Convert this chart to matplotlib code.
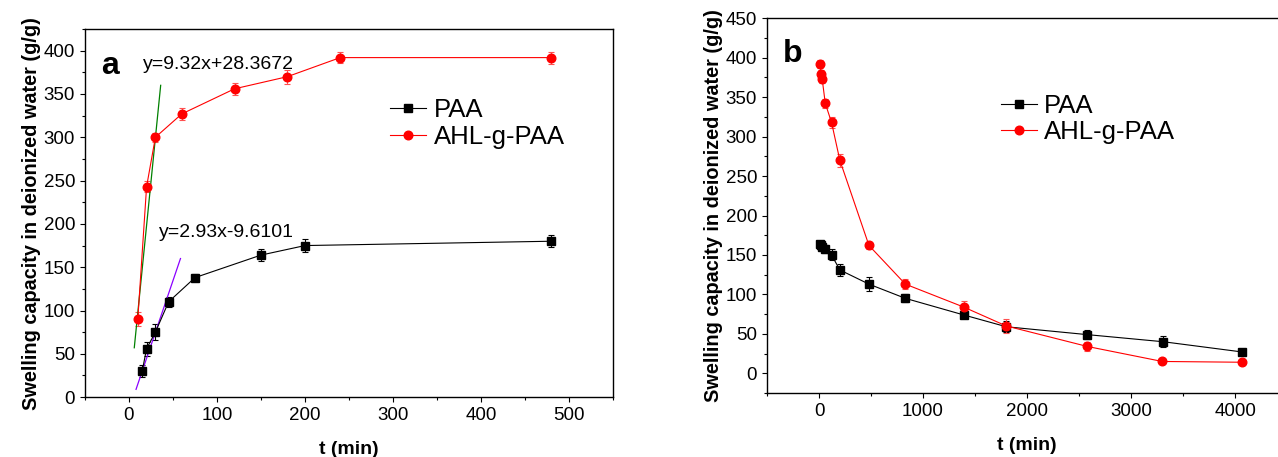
import matplotlib
matplotlib.use("Agg")
import matplotlib.pyplot as plt
from matplotlib.ticker import MultipleLocator

plt.rcParams['font.family'] = ['Liberation Sans', 'DejaVu Sans']

# panel a: swelling kinetics
a_paa_t = [15, 20, 30, 45, 75, 150, 200, 480]
a_paa_q = [30, 56, 75, 110, 138, 164, 175, 180]
a_paa_err = [7, 8, 9, 6, 4, 7, 7, 7]
a_ahl_t = [10, 20, 30, 60, 120, 180, 240, 480]
a_ahl_q = [90, 243, 300, 327, 356, 370, 392, 392]
a_ahl_err = [8, 6, 5, 7, 7, 8, 6, 7]

# fitted lines (endpoints as drawn)
fit_ahl_t = [6, 36]
fit_ahl_q = [57, 360]
fit_paa_t = [8, 58.5]
fit_paa_q = [9, 160]
eq_ahl = "y=9.32x+28.3672"
eq_paa = "y=2.93x-9.6101"

# panel b: deswelling
b_paa_t = [10, 20, 30, 60, 120, 200, 480, 830, 1390, 1800, 2580, 3310, 4070]
b_paa_q = [164, 162, 160, 157, 150, 131, 113, 95, 74, 59, 49, 40, 27]
b_paa_err = [4, 4, 4, 5, 7, 8, 9, 5, 4, 7, 6, 7, 3]
b_ahl_t = [10, 20, 30, 60, 120, 200, 480, 830, 1390, 1800, 2580, 3300, 4070]
b_ahl_q = [392, 380, 373, 342, 318, 270, 162, 113, 84, 60, 34, 15, 14]
b_ahl_err = [5, 5, 5, 6, 7, 8, 5, 6, 8, 9, 6, 3, 3]

labels = ['PAA', 'AHL-g-PAA']
ylab = "Swelling capacity in deionized water (g/g)"

fig = plt.figure(figsize=(12.78, 4.57), dpi=100)
ax1 = fig.add_axes([0.0665, 0.131, 0.4132, 0.8055])
ax2 = fig.add_axes([0.6002, 0.140, 0.4069, 0.820])

ekw = dict(capsize=2.5, elinewidth=0.8, capthick=0.8, lw=0.8)
lkw = dict(loc='center left', frameon=False, borderpad=0, fontsize=18.5,
           handlelength=1.4, handletextpad=0.28, labelspacing=0.1)

h1 = ax1.errorbar(a_paa_t, a_paa_q, yerr=a_paa_err, color='black', marker='s',
                  markersize=5.3, **ekw)
h2 = ax1.errorbar(a_ahl_t, a_ahl_q, yerr=a_ahl_err, color='red', ecolor='#ff5050',
                  marker='o', markersize=6.2, **ekw)
ax1.plot(fit_ahl_t, fit_ahl_q, color='green', lw=0.9)
ax1.plot(fit_paa_t, fit_paa_q, color='#8b00ff', lw=0.9)
ax1.text(15.8, 384, eq_ahl, fontsize=14, ha='left', va='center')
ax1.text(34, 190, eq_paa, fontsize=14, ha='left', va='center')
ax1.text(-22, 382, 'a', fontsize=23, fontweight='bold', ha='center', va='center')

ax1.set_xlim(-50, 550)
ax1.set_ylim(0, 425)
ax1.xaxis.set_major_locator(MultipleLocator(100))
ax1.xaxis.set_minor_locator(MultipleLocator(50))
ax1.yaxis.set_major_locator(MultipleLocator(50))
ax1.yaxis.set_minor_locator(MultipleLocator(25))
ax1.set_xlabel('t (min)', fontsize=14, fontweight='bold', labelpad=12)
ax1.set_ylabel(ylab, fontsize=14.3, fontweight='bold', labelpad=2)
ax1.legend([h1[0], h2[0]], labels, bbox_to_anchor=(0.554, 0.743), **lkw)

g1 = ax2.errorbar(b_paa_t, b_paa_q, yerr=b_paa_err, color='black', marker='s',
                  markersize=5.3, **ekw)
g2 = ax2.errorbar(b_ahl_t, b_ahl_q, yerr=b_ahl_err, color='red', ecolor='#ff5050',
                  marker='o', markersize=6.2, **ekw)
ax2.text(-258, 405, 'b', fontsize=23, fontweight='bold', ha='center', va='center')

ax2.set_xlim(-500, 4500)
ax2.set_ylim(-25, 450)
ax2.xaxis.set_major_locator(MultipleLocator(1000))
ax2.xaxis.set_minor_locator(MultipleLocator(500))
ax2.yaxis.set_major_locator(MultipleLocator(50))
ax2.yaxis.set_minor_locator(MultipleLocator(25))
ax2.set_xlabel('t (min)', fontsize=14, fontweight='bold', labelpad=12)
ax2.set_ylabel(ylab, fontsize=14.3, fontweight='bold', labelpad=2)
ax2.legend([g1[0], g2[0]], labels, bbox_to_anchor=(0.4246, 0.7307), **lkw)

for ax in (ax1, ax2):
    ax.tick_params(which='both', direction='out', top=False, right=False,
                   labelsize=13.5, width=0.8)
    ax.tick_params(which='major', length=3.6)
    ax.tick_params(which='minor', length=2.2)
    for s in ax.spines.values():
        s.set_linewidth(1.0)

fig.savefig('out.png', dpi=100)
